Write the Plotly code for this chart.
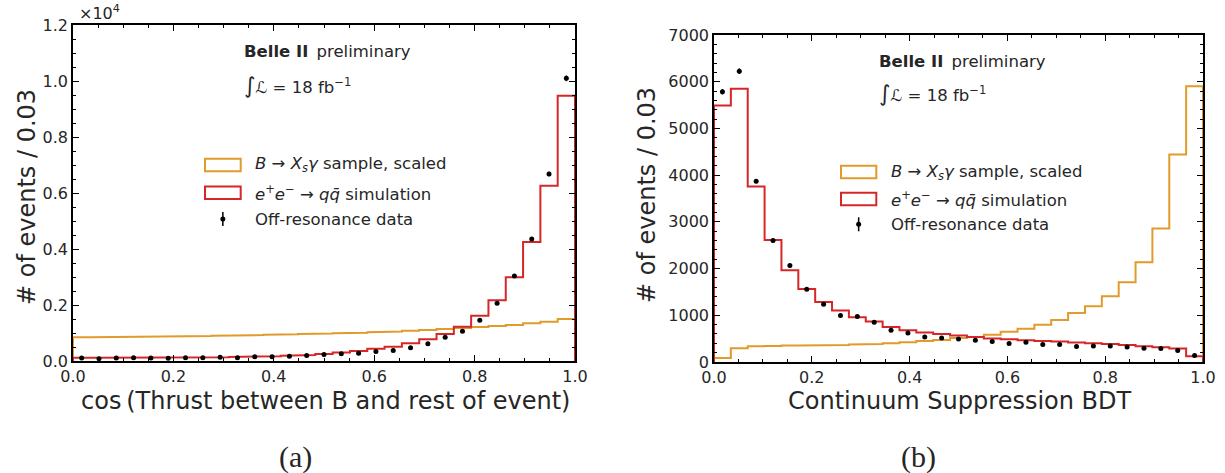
import numpy as np
import plotly.graph_objects as go

# ---------------- data ----------------
N_BINS = 29
BIN_EDGES = np.linspace(0.0, 1.0, N_BINS + 1)

# (a) cos(thrust between B and rest of event)
thrust_signal = [846, 850, 855, 862, 868, 875, 885, 893, 903, 913, 925, 938, 952, 966, 980,
                 995, 1012, 1030, 1055, 1083, 1110, 1140, 1180, 1215, 1250, 1290, 1345, 1405, 1500]
thrust_qq = [112, 113, 115, 117, 120, 123, 127, 132, 138, 146, 155, 170, 190, 215, 250,
             300, 360, 435, 510, 631, 774, 964, 1226, 1620, 2170, 2990, 4250, 6260, 9470]
thrust_data = [107, 83, 110, 119, 107, 100, 119, 119, 131, 119, 155, 155, 167, 200, 235,
               260, 274, 340, 375, 476, 619, 845, 1060, 1452, 2060, 3036, 4357, 6678, 10095]
thrust_err = [10, 9, 10, 11, 10, 10, 11, 11, 11, 11, 12, 12, 13, 14, 15,
              16, 17, 18, 19, 22, 25, 29, 33, 38, 45, 55, 66, 82, 100]

# (b) continuum suppression BDT output
bdt_signal = [88, 294, 337, 345, 352, 352, 359, 366, 373, 387, 402, 423, 452, 470, 516,
              537, 585, 650, 712, 798, 900, 1051, 1194, 1410, 1707, 2135, 2857, 4441, 5904]
bdt_qq = [5490, 5848, 3756, 2610, 1964, 1565, 1287, 1100, 958, 865, 751, 680, 630, 600, 565,
          537, 505, 486, 465, 451, 437, 415, 401, 387, 366, 337, 315, 287, 122]
bdt_data = [5784, 6225, 3870, 2600, 2064, 1557, 1236, 994, 972, 851, 679, 622, 537, 516, 494,
            465, 437, 394, 422, 372, 372, 330, 344, 344, 323, 294, 287, 244, 137]
bdt_err = [57, 59, 46, 38, 34, 30, 26, 24, 23, 22, 20, 19, 18, 17, 17,
           16, 16, 15, 15, 15, 15, 14, 14, 14, 14, 13, 13, 12, 9]

LEGEND_LABELS = [
    "<i>B</i> \u2192 <i>X<sub>s</sub>\u03b3</i> sample, scaled",
    "<i>e</i><sup>+</sup><i>e</i><sup>\u2212</sup> \u2192 <i>q</i><i>q\u0304</i> simulation",
    "Off-resonance data",
]

ORANGE = "#e09b2a"
RED = "#d62728"
TEXT = "#262626"
W, H = 1225, 473


def px(x):
    return x / W


def py(y):
    return 1 - y / H


def step_xy(values):
    """Outline of a step histogram, closed down to zero at both ends."""
    xs, ys = [BIN_EDGES[0]], [0]
    for i, v in enumerate(values):
        xs += [BIN_EDGES[i], BIN_EDGES[i + 1]]
        ys += [v, v]
    xs.append(BIN_EDGES[-1])
    ys.append(0)
    return xs, ys


centers = 0.5 * (BIN_EDGES[:-1] + BIN_EDGES[1:])

fig = go.Figure()

for (sig, qq, dat, err, xa, ya) in [
    (thrust_signal, thrust_qq, thrust_data, thrust_err, "x", "y"),
    (bdt_signal, bdt_qq, bdt_data, bdt_err, "x2", "y2"),
]:
    sx, sy = step_xy(sig)
    fig.add_trace(go.Scatter(x=sx, y=sy, mode="lines", line=dict(color=ORANGE, width=2),
                             xaxis=xa, yaxis=ya, showlegend=False, hoverinfo="skip"))
    qx, qy = step_xy(qq)
    fig.add_trace(go.Scatter(x=qx, y=qy, mode="lines", line=dict(color=RED, width=2),
                             xaxis=xa, yaxis=ya, showlegend=False, hoverinfo="skip"))
    fig.add_trace(go.Scatter(x=centers, y=dat, mode="markers",
                             marker=dict(color="black", size=5),
                             error_y=dict(type="data", array=err, width=0, thickness=1.5, color="black"),
                             xaxis=xa, yaxis=ya, showlegend=False))

tickfont = dict(family="DejaVu Sans", size=16, color=TEXT)
common_x = dict(range=[0, 1], tickvals=[0, 0.2, 0.4, 0.6, 0.8, 1.0], tickformat=".1f",
                ticks="inside", ticklen=6, tickwidth=1.2, tickcolor="black",
                showline=True, linecolor="black", linewidth=1.5, mirror="ticks",
                showgrid=False, zeroline=False, tickfont=tickfont, automargin=False,
                minor=dict(dtick=0.05, ticks="inside", ticklen=3, tickwidth=1, tickcolor="black", showgrid=False))
common_y = dict(ticks="inside", ticklen=6, tickwidth=1.2, tickcolor="black",
                showline=True, linecolor="black", linewidth=1.5, mirror="ticks",
                showgrid=False, zeroline=False, tickfont=tickfont, automargin=False)

fig.update_layout(
    width=W, height=H, autosize=False, margin=dict(l=0, r=0, t=0, b=0, pad=0),
    paper_bgcolor="white", plot_bgcolor="white", showlegend=False,
    xaxis=dict(domain=[px(73), px(575)], anchor="y", **common_x),
    yaxis=dict(domain=[py(361), py(25)], anchor="x", range=[0, 12000],
               tickvals=[0, 2000, 4000, 6000, 8000, 10000, 12000],
               ticktext=["0.0", "0.2", "0.4", "0.6", "0.8", "1.0", "1.2"],
               minor=dict(dtick=500, ticks="inside", ticklen=3, tickwidth=1, tickcolor="black", showgrid=False),
               **common_y),
    xaxis2=dict(domain=[px(714), px(1203)], anchor="y2", **common_x),
    yaxis2=dict(domain=[py(362), py(35)], anchor="x2", range=[0, 7000], dtick=1000,
                minor=dict(dtick=200, ticks="inside", ticklen=3, tickwidth=1, tickcolor="black", showgrid=False),
                **common_y),
)

annotations = []
shapes = []


def note(x, y, text, size=16.5, xanchor="left", angle=0, family="DejaVu Sans"):
    annotations.append(dict(x=px(x), y=py(y), xref="paper", yref="paper", text=text,
                            showarrow=False, xanchor=xanchor, yanchor="middle", textangle=angle,
                            font=dict(family=family, size=size, color=TEXT)))


# axis titles
note(27, 197, "# of events / 0.03", size=24, xanchor="center", angle=-90)
note(647, 195, "# of events / 0.03", size=24, xanchor="center", angle=-90)
note(325, 401, "cos\u2009(Thrust between B and rest of event)", size=24, xanchor="center")
note(960, 401, "Continuum Suppression BDT", size=24, xanchor="center")
note(77, 13, "\u00d710<sup>4</sup>", size=16)

# sub-figure captions
note(295, 457, "(a)", size=30, xanchor="center", family="Liberation Serif")
note(918, 457, "(b)", size=30, xanchor="center", family="Liberation Serif")

# experiment labels and legends for each panel
panels = [
    dict(tx=241.7, by=51.7, ly=85, box=(205, 240.7), lx=253.3, rows=(165, 192.7, 219)),
    dict(tx=876.7, by=61.7, ly=93.3, box=(841, 876.3), lx=889.3, rows=(172, 199, 224.3)),
]
for p in panels:
    note(p["tx"], p["by"], "<b>Belle II</b>\u2002preliminary")
    note(p["tx"], p["ly"], "<span style='font-size:22px'>\u222b</span><i>\u2112</i> = 18 fb<sup>\u22121</sup>")
    x0, x1 = p["box"]
    for color, yc in [(ORANGE, p["rows"][0]), (RED, p["rows"][1])]:
        shapes.append(dict(type="rect", xref="paper", yref="paper",
                           x0=px(x0), x1=px(x1), y0=py(yc - 6.2), y1=py(yc + 6.2),
                           line=dict(color=color, width=2), fillcolor="rgba(0,0,0,0)"))
    xm = 0.5 * (x0 + x1)
    yd = p["rows"][2]
    shapes.append(dict(type="line", xref="paper", yref="paper", x0=px(xm), x1=px(xm),
                       y0=py(yd - 7), y1=py(yd + 7), line=dict(color="black", width=1.5)))
    shapes.append(dict(type="circle", xref="paper", yref="paper", x0=px(xm - 2.5), x1=px(xm + 2.5),
                       y0=py(yd - 2.5), y1=py(yd + 2.5), fillcolor="black", line=dict(color="black", width=0)))
    for label, yc in zip(LEGEND_LABELS, p["rows"]):
        note(p["lx"], yc, label)

fig.update_layout(annotations=annotations, shapes=shapes)
fig.write_html("out.html")
